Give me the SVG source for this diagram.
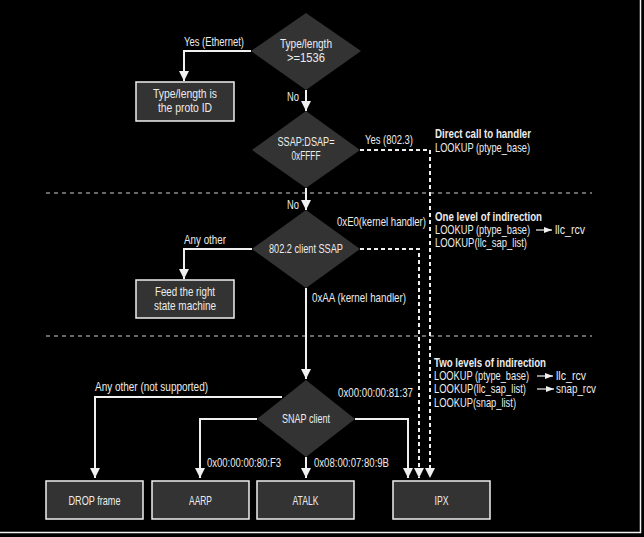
<svg xmlns="http://www.w3.org/2000/svg" width="644" height="537" viewBox="0 0 644 537">
  <style>
    text { font-family: "Liberation Sans", Arial, sans-serif; font-size: 13px; fill: #ececec; }
    .c { text-anchor: middle; }
    .b { font-weight: bold; }
    .shape { fill: #333333; }
    .box { fill: #333333; stroke: #f0f0f0; stroke-width: 1.5; }
    .flow { fill: none; stroke: #f0f0f0; stroke-width: 2; }
    .dash { fill: none; stroke: #f0f0f0; stroke-width: 2; stroke-dasharray: 4 3; }
    .sep { fill: none; stroke: #8a8a8a; stroke-width: 1.5; stroke-dasharray: 4 4; }
    .thin { fill: none; stroke: #f0f0f0; stroke-width: 1.2; }
  </style>
  <defs>
    <marker id="arrow" markerUnits="userSpaceOnUse" markerWidth="10" markerHeight="12" refX="10" refY="5" orient="auto">
      <path d="M0,0 L10,5 L0,10 Z" fill="#f0f0f0"/>
    </marker>
    <marker id="tiny" markerUnits="userSpaceOnUse" markerWidth="8" markerHeight="6" refX="8" refY="3" orient="auto">
      <path d="M0,0 L8,3 L0,6 Z" fill="#f0f0f0"/>
    </marker>
  </defs>

  <rect x="0" y="0" width="644" height="537" fill="#000"/>
  <!-- frame edges -->
  <path d="M640.5,0 V532.5 H0" fill="none" stroke="#f0f0f0" stroke-width="1.5"/>

  <!-- layer separators -->
  <g id="separators">
    <line class="sep" x1="46" y1="193" x2="592" y2="193"/>
    <line class="sep" x1="46" y1="336" x2="592" y2="336"/>
  </g>

  <!-- connectors -->
  <g id="connectors">
    <polyline class="flow" points="251,51 184,51 184,81" marker-end="url(#arrow)"/>
    <line class="flow" x1="306" y1="90" x2="306" y2="111" marker-end="url(#arrow)"/>
    <polyline class="dash" points="360,150 430,150 430,478" marker-end="url(#arrow)"/>
    <line class="flow" x1="306" y1="188" x2="306" y2="210" marker-end="url(#arrow)"/>
    <polyline class="flow" points="252,249 184,249 184,279" marker-end="url(#arrow)"/>
    <polyline class="dash" points="360,249 419,249 419,478" marker-end="url(#arrow)"/>
    <line class="flow" x1="306" y1="288" x2="306" y2="379" marker-end="url(#arrow)"/>
    <polyline class="flow" points="282,397 95,397 95,478" marker-end="url(#arrow)"/>
    <polyline class="flow" points="257,419 200,419 200,478" marker-end="url(#arrow)"/>
    <line class="flow" x1="306" y1="457" x2="306" y2="478" marker-end="url(#arrow)"/>
    <polyline class="flow" points="355,419 408,419 408,478" marker-end="url(#arrow)"/>
  </g>

  <!-- connector labels -->
  <g id="labels">
    <text class="c" x="214" y="46" textLength="60" lengthAdjust="spacingAndGlyphs">Yes (Ethernet)</text>
    <text x="287" y="101" textLength="12" lengthAdjust="spacingAndGlyphs">No</text>
    <text x="365" y="144" textLength="48" lengthAdjust="spacingAndGlyphs">Yes (802.3)</text>
    <text x="287" y="209" textLength="12" lengthAdjust="spacingAndGlyphs">No</text>
    <text x="337" y="226" textLength="89" lengthAdjust="spacingAndGlyphs">0xE0(kernel handler)</text>
    <text x="184" y="244" textLength="42" lengthAdjust="spacingAndGlyphs">Any other</text>
    <text x="312" y="302" textLength="94" lengthAdjust="spacingAndGlyphs">0xAA (kernel handler)</text>
    <text x="95" y="391" textLength="113" lengthAdjust="spacingAndGlyphs">Any other (not supported)</text>
    <text x="338" y="397" textLength="75" lengthAdjust="spacingAndGlyphs">0x00:00:00:81:37</text>
    <text x="207" y="467" textLength="74" lengthAdjust="spacingAndGlyphs">0x00:00:00:80:F3</text>
    <text x="314" y="467" textLength="75" lengthAdjust="spacingAndGlyphs">0x08:00:07:80:9B</text>
  </g>

  <!-- lookup notes -->
  <g id="note-direct">
    <text class="b" x="435" y="138" textLength="96" lengthAdjust="spacingAndGlyphs">Direct call to handler</text>
    <text x="435" y="152" textLength="95" lengthAdjust="spacingAndGlyphs">LOOKUP (ptype_base)</text>
  </g>
  <g id="note-one-level">
    <text class="b" x="435" y="221" textLength="107" lengthAdjust="spacingAndGlyphs">One level of indirection</text>
    <text x="435" y="234" textLength="95" lengthAdjust="spacingAndGlyphs">LOOKUP (ptype_base)</text>
    <line class="thin" x1="536" y1="230" x2="552" y2="230" marker-end="url(#tiny)"/>
    <text x="555" y="234" textLength="30" lengthAdjust="spacingAndGlyphs">llc_rcv</text>
    <text x="435" y="247" textLength="92" lengthAdjust="spacingAndGlyphs">LOOKUP(llc_sap_list)</text>
  </g>
  <g id="note-two-levels">
    <text class="b" x="434" y="367" textLength="112" lengthAdjust="spacingAndGlyphs">Two levels of indirection</text>
    <text x="434" y="380" textLength="95" lengthAdjust="spacingAndGlyphs">LOOKUP (ptype_base)</text>
    <line class="thin" x1="537" y1="376" x2="553" y2="376" marker-end="url(#tiny)"/>
    <text x="556" y="380" textLength="30" lengthAdjust="spacingAndGlyphs">llc_rcv</text>
    <text x="434" y="393" textLength="92" lengthAdjust="spacingAndGlyphs">LOOKUP(llc_sap_list)</text>
    <line class="thin" x1="537" y1="389" x2="554" y2="389" marker-end="url(#tiny)"/>
    <text x="556" y="393" textLength="40" lengthAdjust="spacingAndGlyphs">snap_rcv</text>
    <text x="434" y="407" textLength="82" lengthAdjust="spacingAndGlyphs">LOOKUP(snap_list)</text>
  </g>

  <!-- decisions -->
  <g id="type-length">
    <polygon class="shape" points="306,13 361,51 306,90 251,51"/>
    <text class="c" x="306" y="48" textLength="52" lengthAdjust="spacingAndGlyphs">Type/length</text>
    <text class="c" x="306" y="62" textLength="38" lengthAdjust="spacingAndGlyphs">&gt;=1536</text>
  </g>
  <g id="ssap-dsap">
    <polygon class="shape" points="306,111 360,150 306,188 252,150"/>
    <text class="c" x="306" y="146" textLength="57" lengthAdjust="spacingAndGlyphs">SSAP:DSAP=</text>
    <text class="c" x="306" y="160" textLength="29" lengthAdjust="spacingAndGlyphs">0xFFFF</text>
  </g>
  <g id="client-ssap">
    <polygon class="shape" points="306,210 360,249 306,288 252,249"/>
    <text class="c" x="306" y="253" textLength="74" lengthAdjust="spacingAndGlyphs">802.2 client SSAP</text>
  </g>
  <g id="snap-client">
    <polygon class="shape" points="306,380 355,419 306,457 257,419"/>
    <text class="c" x="306" y="423" textLength="48" lengthAdjust="spacingAndGlyphs">SNAP client</text>
  </g>

  <!-- terminal boxes -->
  <g id="proto-id">
    <rect class="box" x="136" y="82" width="98" height="39"/>
    <text class="c" x="185" y="98" textLength="64" lengthAdjust="spacingAndGlyphs">Type/length  is</text>
    <text class="c" x="185" y="112" textLength="54" lengthAdjust="spacingAndGlyphs">the proto ID</text>
  </g>
  <g id="state-machine">
    <rect class="box" x="136" y="280" width="98" height="38"/>
    <text class="c" x="185" y="296" textLength="60" lengthAdjust="spacingAndGlyphs">Feed the right</text>
    <text class="c" x="185" y="310" textLength="62" lengthAdjust="spacingAndGlyphs">state machine</text>
  </g>
  <g id="drop">
    <rect class="box" x="46" y="481" width="97" height="38"/>
    <text class="c" x="94.5" y="505" textLength="52" lengthAdjust="spacingAndGlyphs">DROP frame</text>
  </g>
  <g id="aarp">
    <rect class="box" x="152" y="481" width="97" height="38"/>
    <text class="c" x="200.5" y="505" textLength="23" lengthAdjust="spacingAndGlyphs">AARP</text>
  </g>
  <g id="atalk">
    <rect class="box" x="257" y="481" width="97" height="38"/>
    <text class="c" x="305.5" y="505" textLength="26" lengthAdjust="spacingAndGlyphs">ATALK</text>
  </g>
  <g id="ipx">
    <rect class="box" x="393" y="481" width="97" height="38"/>
    <text class="c" x="441.5" y="505" textLength="14" lengthAdjust="spacingAndGlyphs">IPX</text>
  </g>
</svg>
